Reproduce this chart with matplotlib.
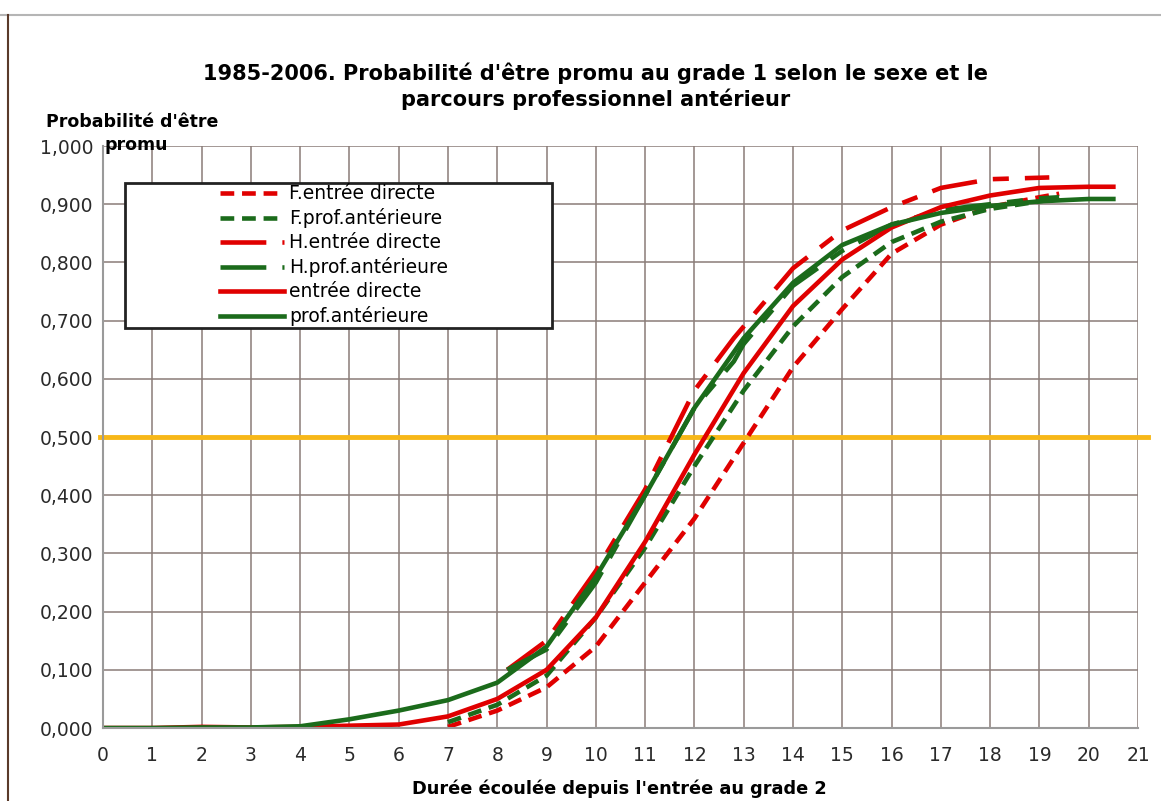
import matplotlib.pyplot as plt
from matplotlib.patches import Rectangle
from matplotlib.lines import Line2D
from matplotlib.ticker import FuncFormatter

plt.rcParams['font.family'] = ['DejaVu Sans']

# --- data ---
x_green_solid = [0, 1, 2, 3, 4, 5, 6, 7, 8, 9, 10, 11, 12, 13, 14, 15, 16, 17, 18, 19, 20, 20.5]
y_green_solid = [0, 0, 0.001, 0.001, 0.003, 0.015, 0.03, 0.048, 0.078, 0.14, 0.26, 0.4, 0.55, 0.67,
                 0.765, 0.83, 0.865, 0.885, 0.897, 0.905, 0.909, 0.909]

x_red_solid = [0, 1, 2, 3, 4, 5, 6, 7, 8, 9, 10, 11, 12, 13, 14, 15, 16, 17, 18, 19, 20, 20.5]
y_red_solid = [0, 0, 0.002, 0.001, 0.002, 0.004, 0.006, 0.02, 0.05, 0.1, 0.19, 0.32, 0.47, 0.61,
               0.725, 0.805, 0.86, 0.895, 0.915, 0.928, 0.93, 0.93]

x_f_direct = [7, 8, 9, 10, 11, 12, 13, 14, 15, 16, 17, 18, 19, 19.4]
y_f_direct = [0.002, 0.03, 0.07, 0.14, 0.25, 0.36, 0.49, 0.62, 0.72, 0.815, 0.865, 0.895, 0.912, 0.918]

x_f_prof = [7, 8, 9, 10, 11, 12, 13, 14, 15, 16, 17, 18, 19, 19.4]
y_f_prof = [0.01, 0.04, 0.09, 0.19, 0.31, 0.45, 0.58, 0.69, 0.775, 0.835, 0.87, 0.892, 0.905, 0.91]

x_h_direct = [8.2, 9, 10, 11, 12, 12.8, 13, 14, 15, 16, 17, 18, 19.2]
y_h_direct = [0.10, 0.15, 0.27, 0.41, 0.58, 0.67, 0.69, 0.79, 0.855, 0.895, 0.928, 0.943, 0.946]

x_h_prof = [8.2, 9, 10, 11, 12, 12.8, 13, 14, 15, 16, 17, 18, 19, 19.4]
y_h_prof = [0.10, 0.135, 0.25, 0.4, 0.55, 0.63, 0.66, 0.76, 0.82, 0.865, 0.89, 0.9, 0.91, 0.912]

xticks = list(range(0, 22))
yticks = [i / 10 for i in range(0, 11)]

RED = '#e00000'
GREEN = '#1b6b1b'

fig = plt.figure(figsize=(11.61, 8.01), dpi=100)
ax = fig.add_axes([0.0887, 0.0911, 0.8915, 0.7266])

short = (3.0, 1.7)
longdash = (10, 3.5, 3.5, 3.5)

l1, = ax.plot(x_f_direct, y_f_direct, color=RED, lw=3.3, dashes=short, label='F.entrée directe')
l2, = ax.plot(x_f_prof, y_f_prof, color=GREEN, lw=3.3, dashes=short, label='F.prof.antérieure')
l3, = ax.plot(x_h_direct, y_h_direct, color=RED, lw=3.3, dashes=longdash, label='H.entrée directe')
l4, = ax.plot(x_h_prof, y_h_prof, color=GREEN, lw=3.3, dashes=longdash, label='H.prof.antérieure')
l5, = ax.plot(x_red_solid, y_red_solid, color=RED, lw=3.3, label='entrée directe')
l6, = ax.plot(x_green_solid, y_green_solid, color=GREEN, lw=3.3, label='prof.antérieure')

ax.axhline(0.5, xmin=-0.003, xmax=1.01, color='#f7b718', lw=3.5, clip_on=False, zorder=1.5)

ax.set_xlim(0, 21)
ax.set_ylim(0, 1.0)
ax.set_xticks(xticks)
ax.set_yticks(yticks)
ax.yaxis.set_major_formatter(FuncFormatter(lambda v, p: f'{v:.3f}'.replace('.', ',')))
ax.grid(True, color='#8a7c78', lw=1.1)
ax.set_axisbelow(True)
for s in ['top', 'right']:
    ax.spines[s].set_visible(False)
for s in ['left', 'bottom']:
    ax.spines[s].set_color('#9a9a9a')
    ax.spines[s].set_linewidth(1.5)
ax.tick_params(axis='both', length=0, labelsize=13.5, colors='#2a2a2a')
ax.tick_params(axis='x', pad=13)
ax.tick_params(axis='y', pad=7)

# legend box
ax.add_patch(Rectangle((0.0213, 0.687), 0.4125, 0.249, transform=ax.transAxes,
                       facecolor='white', edgecolor='#222222', lw=2, zorder=4))
leg = ax.legend(handles=[l1, l2, l3, l4, l5, l6], loc='upper left',
                bbox_to_anchor=(0.113, 0.934), frameon=False, fontsize=13.5,
                handlelength=3.4, handletextpad=0.3, labelspacing=0.265,
                borderpad=0, borderaxespad=0)
leg.set_zorder(5)

fig.text(0.513, 0.892, "1985-2006. Probabilité d'être promu au grade 1 selon le sexe et le\nparcours professionnel antérieur",
         ha='center', va='center', fontsize=15, fontweight='bold', linespacing=1.25)
fig.text(0.114, 0.848, "Probabilité d'être", ha='center', va='center',
         fontsize=12.5, fontweight='bold')
fig.text(0.117, 0.819, "promu", ha='center', va='center',
         fontsize=12.5, fontweight='bold')
fig.text(0.533, 0.015, "Durée écoulée depuis l'entrée au grade 2", ha='center', va='center',
         fontsize=12.8, fontweight='bold')

# scan border lines
fig.add_artist(Line2D([0.0, 1.0], [0.981, 0.981], color='#b5b5b5', lw=1.5))
fig.add_artist(Line2D([0.007, 0.007], [0.0, 0.981], color='#5a3a2a', lw=1.5))

fig.savefig('out.png', dpi=100)
